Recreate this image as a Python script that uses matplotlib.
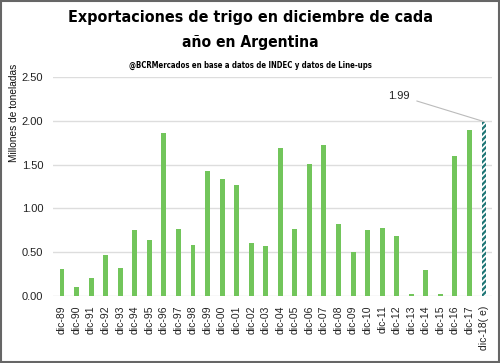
import matplotlib
matplotlib.use("Agg")
import matplotlib.pyplot as plt
from matplotlib.patches import Rectangle

labels = ['dic-89', 'dic-90', 'dic-91', 'dic-92', 'dic-93', 'dic-94', 'dic-95', 'dic-96',
          'dic-97', 'dic-98', 'dic-99', 'dic-00', 'dic-01', 'dic-02', 'dic-03', 'dic-04',
          'dic-05', 'dic-06', 'dic-07', 'dic-08', 'dic-09', 'dic-10', 'dic-11', 'dic-12',
          'dic-13', 'dic-14', 'dic-15', 'dic-16', 'dic-17']
values = [0.31, 0.10, 0.20, 0.47, 0.32, 0.75, 0.64, 1.86, 0.76, 0.58, 1.43, 1.34, 1.27,
          0.60, 0.57, 1.69, 0.76, 1.51, 1.72, 0.82, 0.50, 0.75, 0.77, 0.68, 0.02, 0.29,
          0.02, 1.60, 1.89]
est_label = 'dic-18( e)'
est_value = 1.99
yticks = [0.0, 0.5, 1.0, 1.5, 2.0, 2.5]

green = '#72C55B'
teal = '#1E7676'

plt.rcParams['hatch.color'] = teal
plt.rcParams['hatch.linewidth'] = 1.6
plt.rcParams['font.family'] = ['Liberation Sans', 'DejaVu Sans']

fig = plt.figure(figsize=(5, 3.63), dpi=100)
ax = fig.add_axes([0.106, 0.185, 0.878, 0.603])

x = list(range(len(labels)))
ax.bar(x, values, width=0.34, color=green, zorder=3)
ax.bar(len(labels), est_value, width=0.34, color='white', edgecolor=teal,
       hatch='//////', linewidth=0, zorder=3)

ax.set_xlim(-0.62, len(labels) + 0.55)
ax.set_ylim(0, 2.5)
ax.set_yticks(yticks)
ax.set_yticklabels([f'{t:.2f}' for t in yticks], fontsize=8, color='#222222')
ax.set_xticks(x + [len(labels)])
ax.set_xticklabels(labels + [est_label], rotation=90, fontsize=7.5, color='#222222')
ax.tick_params(length=0, pad=7)
ax.grid(axis='y', color='#DDDDDD', linewidth=1, zorder=0)
for s in ax.spines.values():
    s.set_visible(False)

ax.annotate(f'{est_value:.2f}', xy=(len(labels), est_value), xytext=(-74, 26),
            textcoords='offset pixels',
            fontsize=8, color='#222222', ha='right', va='center',
            arrowprops=dict(arrowstyle='-', color='#BBBBBB', lw=0.8,
                            shrinkA=3, shrinkB=0))

fig.text(0.028, 0.69, 'Millones de toneladas', rotation=90, fontsize=7.3,
         ha='center', va='center', color='#111111')

head = dict(family='DejaVu Sans', fontstretch='condensed', ha='center', va='center')
t1 = fig.text(0.5, 0.952, 'Exportaciones de trigo en diciembre de cada', fontsize=14,
              fontweight='bold', **head)
t2 = fig.text(0.5, 0.882, 'año en Argentina', fontsize=14, fontweight='bold', **head)
t3 = fig.text(0.5, 0.82, '@BCRMercados en base a datos de INDEC y datos de Line-ups',
              fontsize=7, fontweight='bold', **head)

# shrink the wide fallback font so each heading covers the reference width
fig.canvas.draw()
for t, w in [(t1, 366), (t2, 138), (t3, 242)]:
    bb = t.get_window_extent()
    t.set_fontsize(t.get_fontsize() * w / bb.width)

fig.patches.append(Rectangle((0.002, 0.003), 0.996, 0.994, transform=fig.transFigure,
                             fill=False, edgecolor='#666666', linewidth=1.5))

fig.savefig('out.png', dpi=100)
